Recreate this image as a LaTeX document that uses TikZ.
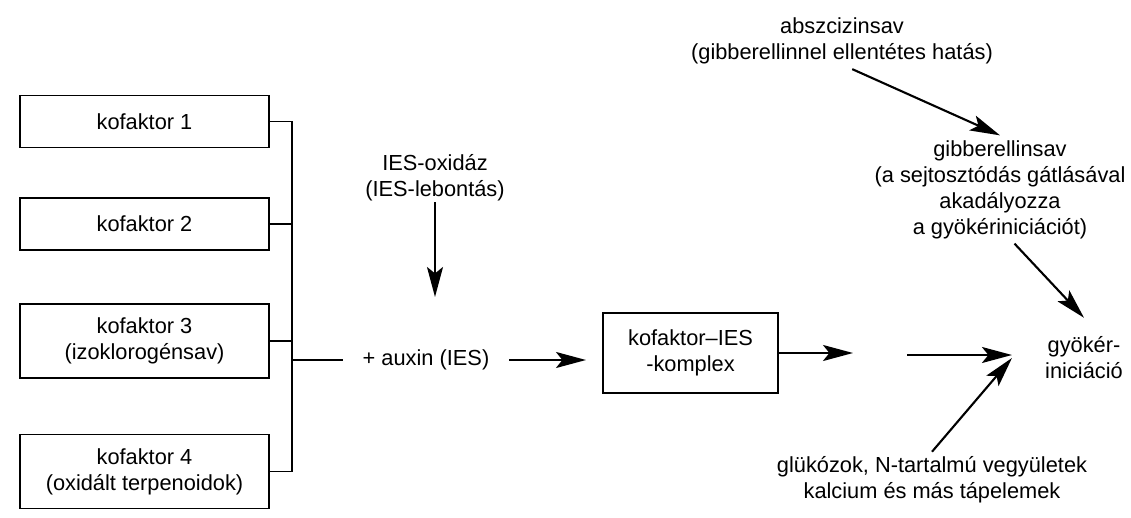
\documentclass[tikz,border=0pt]{standalone}
\usepackage{fontspec}
\setmainfont{Liberation Sans}
\usetikzlibrary{arrows.meta}

\begin{document}
\begin{tikzpicture}
	[%%%%%%%%%%%%%%%%%%%%%%%%%%%%%%
	x=0.025cm, y=-0.025cm,
	every node/.style={font=\fontsize{15.5}{18.5}\selectfont, align=center},
	kbox/.style={rectangle, draw=black, line width=1.4pt, minimum width=6.225cm, minimum height=1.3cm},
	cbox/.style={rectangle, draw=black, line width=1.4pt, minimum width=4.375cm, minimum height=2cm},
	arr/.style={line width=1.5pt, -{Stealth[length=0.75cm, width=0.4cm, inset=0.16cm]}},
	link/.style={line width=1.3pt},
	]%%%%%%%%%%%%%%%%%%%%%%%%%%%%%%
	
	\useasboundingbox (0,0) rectangle (1131,518);
	
	\node[kbox] (k1) at (144.5,121.5) {kofaktor 1};
	\node[kbox] (k2) at (144.5,224) {kofaktor 2};
	\node[kbox, minimum height=1.85cm] (k3) at (144.5,341) {kofaktor 3\\(izoklorogénsav)};
	\node[kbox, minimum height=1.85cm] (k4) at (144.5,471.5) {kofaktor 4\\(oxidált terpenoidok)};
	\coordinate (bus) at (292,360);
	
	\foreach \k in {k1,k2,k3,k4}
	\draw[link] (\k.east) -| (bus);
	
	\node[inner xsep=0.49cm] (auxin) at (426,360) {+ auxin (IES)};
	\node[inner sep=1pt] (oxidaz) at (435,177.5) {IES-oxidáz\\(IES-lebontás)};
	\coordinate (oxtip) at (435,297);
	\node[cbox] (cplx) at (690.5,353) {kofaktor–IES\\-komplex};
	\coordinate (mid1) at (853,353);
	\coordinate (mid2) at (907,355);
	
	\node[inner xsep=0.825cm, inner ysep=0.47cm] (gyoker) at (1084,358) {gyökér-\\iniciáció};
	\node (absz) at (842,41) {abszcizinsav\\(gibberellinnel ellentétes hatás)};
	\node (gibb) at (1000,189.5) {gibberellinsav\\(a sejtosztódás gátlásával\\akadályozza\\a gyökériniciációt)};
	\node (gluk) at (932,480) {glükózok, N-tartalmú vegyületek\\kalcium és más tápelemek};
	
	\draw[link] (bus) -- (auxin.west);
	\draw[arr] (oxidaz.south) -- (oxtip);
	\draw[arr, shorten >=0.4cm] (auxin.east) -- (auxin.east -| cplx.west);
	\draw[arr] (cplx.east) -- (mid1);
	\draw[arr] (mid2) -- (mid2 -| gyoker.west);
	\draw[arr] (absz.-70) -- (gibb.north);
	\draw[arr] (gibb.-75) -- (gyoker.north);
	\draw[arr] (gluk.north) -- (gyoker.west);
	
\end{tikzpicture}
\end{document}
